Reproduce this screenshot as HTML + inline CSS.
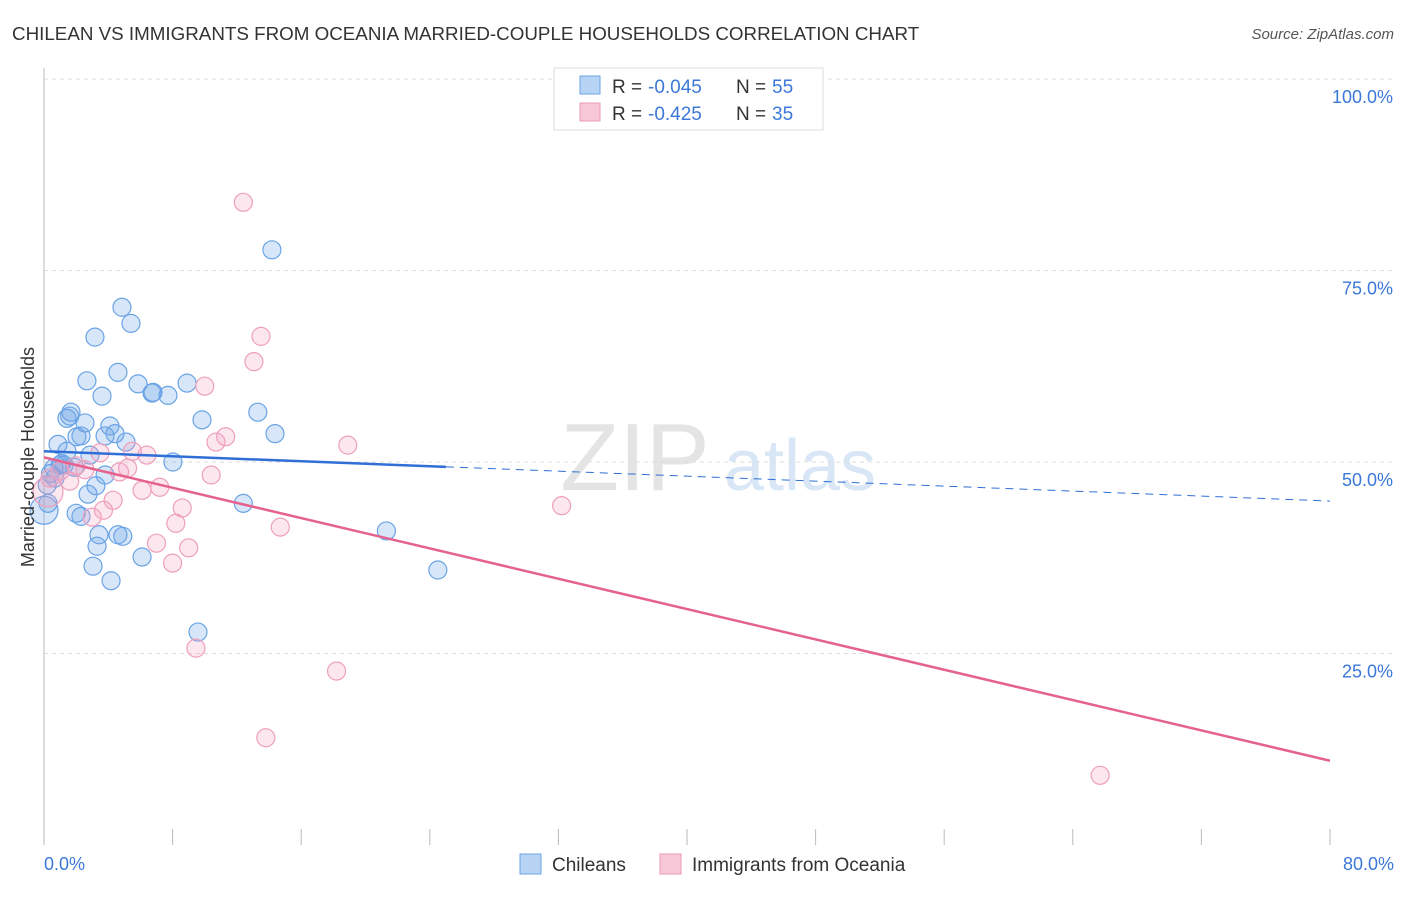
<!DOCTYPE html>
<html><head><meta charset="utf-8"><style>
body{margin:0;background:#fff;font-family:"Liberation Sans",sans-serif}
svg text{font-family:"Liberation Sans",sans-serif}
</style></head><body>
<svg width="1406" height="892" viewBox="0 0 1406 892">
<text x="12" y="40" font-size="18.8" fill="#333">CHILEAN VS IMMIGRANTS FROM OCEANIA MARRIED-COUPLE HOUSEHOLDS CORRELATION CHART</text>
<text x="1394" y="39" font-size="15" fill="#555" font-style="italic" text-anchor="end">Source: ZipAtlas.com</text>
<text x="635" y="490" font-size="96" fill="#e4e4e4" font-family="Liberation Serif" text-anchor="middle">ZIP</text>
<text x="800" y="490" font-size="72" fill="#d8e6f6" text-anchor="middle">atlas</text>
<g id="grid"></g>
<g id="axes"></g>
<g id="pts"></g>
<g id="trends"></g>
<text transform="translate(34,457) rotate(-90)" font-size="18" fill="#333" text-anchor="middle">Married-couple Households</text>
<g>
<rect x="554" y="68" width="269" height="62" fill="#fff" stroke="#ddd"/>
<rect x="580" y="76" width="20" height="18" fill="#b8d4f4" stroke="#6aa3e6"/>
<rect x="580" y="103" width="20" height="18" fill="#f9c8d8" stroke="#ec9ab6"/>
<text x="612" y="93" font-size="19" fill="#333">R =</text>
<text x="648" y="93" font-size="19" fill="#3b78d8">-0.045</text>
<text x="736" y="93" font-size="19" fill="#333">N =</text>
<text x="772" y="93" font-size="19" fill="#3b78d8">55</text>
<text x="612" y="120" font-size="19" fill="#333">R =</text>
<text x="648" y="120" font-size="19" fill="#3b78d8">-0.425</text>
<text x="736" y="120" font-size="19" fill="#333">N =</text>
<text x="772" y="120" font-size="19" fill="#3b78d8">35</text>
</g>
<g>
<rect x="520" y="854" width="21" height="20" fill="#b8d4f4" stroke="#6aa3e6"/>
<text x="552" y="871" font-size="19" fill="#333">Chileans</text>
<rect x="660" y="854" width="21" height="20" fill="#f9c8d8" stroke="#ec9ab6"/>
<text x="692" y="871" font-size="19" fill="#333">Immigrants from Oceania</text>
</g>
</svg>
<script>
const yTicks=[100,75,50,25];
const yTickLabels=["100.0%","75.0%","50.0%","25.0%"];
const xTickLabels=["0.0%","80.0%"];
const blueX=[14.18,4.85,5.41,3.17,4.6,2.67,5.85,8.9,6.78,6.72,7.71,3.61,9.83,13.3,1.68,1.43,1.6,2.55,4.1,2.3,2.05,4.42,3.8,5.1,14.37,0.87,1.43,2.86,8.02,1.0,1.25,0.62,0.68,3.8,3.23,2.74,12.4,0.25,0,2.0,2.3,21.3,3.42,4.9,4.6,3.3,6.1,3.05,4.17,24.5,9.58,0.4,1.1,1.9,0.2];
const blueY=[77.7,70.2,68.1,66.3,61.7,60.6,60.2,60.3,59.1,59.0,58.7,58.6,55.5,56.5,56.5,55.7,56.0,55.1,54.7,53.4,53.3,53.7,53.4,52.6,53.7,52.3,51.4,50.9,50.0,49.6,49.6,49.2,47.9,48.3,46.9,45.8,44.6,44.6,43.7,43.3,42.9,41.0,40.5,40.3,40.5,39.0,37.6,36.4,34.5,35.9,27.8,48.5,49.8,49.3,47.0];
const blueR=[9,9,9,9,9,9,9,9,9,9,9,9,9,9,9,9,9,9,9,9,9,9,9,9,9,9,9,9,9,9,9,9,9,9,9,9,9,9,14,9,9,9,9,9,9,9,9,9,9,9,9,9,9,9,9];
const pinkX=[12.4,13.5,13.06,10.0,18.9,11.3,10.7,5.5,6.4,3.48,5.2,4.7,2.0,2.55,1.6,0.37,0.25,7.2,6.1,10.4,4.3,3.7,8.6,3.0,8.2,14.7,7.0,9.0,8.0,32.2,9.45,18.2,13.8,65.7,1.0];
const pinkY=[83.9,66.4,63.1,59.9,52.2,53.3,52.6,51.4,50.9,51.2,49.2,48.7,49.5,49.0,47.5,47.9,46.1,46.7,46.3,48.3,45.0,43.7,44.0,42.8,42.0,41.5,39.4,38.8,36.8,44.3,25.7,22.7,14.0,9.1,48.8];
const pinkR=[9,9,9,9,9,9,9,9,9,9,9,9,9,9,9,9,15,9,9,9,9,9,9,9,9,9,9,9,9,9,9,9,9,9,9];
const blueTrend=[51.4,44.9];
const pinkTrend=[50.6,11.0];
const NS="http://www.w3.org/2000/svg";
function X(v){return 44+v/80*1286;}
function Y(v){return 845-v*7.66;}
function mk(tag,attrs,parent){const e=document.createElementNS(NS,tag);for(const k in attrs)e.setAttribute(k,attrs[k]);document.getElementById(parent).appendChild(e);return e;}
yTicks.forEach((t,i)=>{
 const l=mk('line',{x1:44,x2:1394,y1:Y(t),y2:Y(t),stroke:'#ddd','stroke-dasharray':'4,4'},'grid');
 
 
 const tx=mk('text',{x:1393,y:Y(t)+24,'font-size':18,fill:'#3b78d8','text-anchor':'end'},'grid');
 tx.textContent=yTickLabels[i];
 
 
});
const ya=mk('line',{x1:44,x2:44,y1:68,y2:845,stroke:'#bbb'},'axes');


for(let i=0;i<=10;i++){
 const t=mk('line',{x1:X(i*8),x2:X(i*8),y1:829,y2:845,stroke:'#bbb'},'axes');
 
 
}
[[0,'start',44],[80,'end',1394]].forEach((d,i)=>{
 const tx=mk('text',{x:d[2],y:870,'font-size':18,fill:'#3b78d8','text-anchor':d[1]},'axes');
 tx.textContent=xTickLabels[i];
 
 
});
blueX.forEach((v,i)=>{
 const c=mk('circle',{cx:X(v),cy:Y(blueY[i]),r:blueR[i],fill:'rgba(110,165,230,0.28)',stroke:'#6aa3e6','stroke-width':1.2},'pts');
 
 
});
pinkX.forEach((v,i)=>{
 const c=mk('circle',{cx:X(v),cy:Y(pinkY[i]),r:pinkR[i],fill:'rgba(245,160,190,0.25)',stroke:'#ee9fbb','stroke-width':1.2},'pts');
 
 
});
function trendAt(tr,x){return tr[0]+(tr[1]-tr[0])*x/80;}
const bs=mk('line',{x1:X(0),y1:Y(trendAt(blueTrend,0)),x2:X(25),y2:Y(trendAt(blueTrend,25)),stroke:'#2f6fd6','stroke-width':2.5},'trends');


const bd=mk('line',{x1:X(25),y1:Y(trendAt(blueTrend,25)),x2:X(80),y2:Y(trendAt(blueTrend,80)),stroke:'#2f6fd6','stroke-width':1,'stroke-dasharray':'8,6'},'trends');


const ps=mk('line',{x1:X(0),y1:Y(pinkTrend[0]),x2:X(80),y2:Y(pinkTrend[1]),stroke:'#e5628f','stroke-width':2.5},'trends');


</script>
</body></html>
